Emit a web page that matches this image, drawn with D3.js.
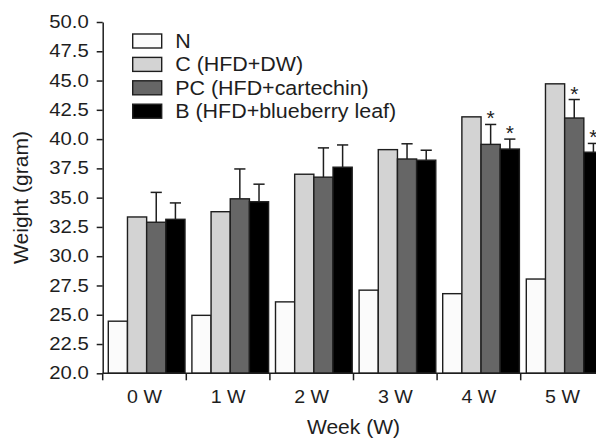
<!DOCTYPE html>
<html>
<head>
<meta charset="utf-8">
<script src="https://cdn.jsdelivr.net/npm/d3@7"></script>
<style>
  html, body { margin: 0; padding: 0; background: #fff; overflow: hidden; }
  svg { display: block; font-family: "Liberation Sans", Arial, Helvetica, sans-serif; }
</style>
</head>
<body>
<svg id="chart" width="596" height="439"></svg>
<script>
// ---- data ----
const weeks = ["0 W", "1 W", "2 W", "3 W", "4 W", "5 W"];
const seriesNames = ["N", "C (HFD+DW)", "PC (HFD+cartechin)", "B (HFD+blueberry leaf)"];
const seriesKeys = ["N", "C", "PC", "B"];
const valuesN  = [24.45, 24.95, 26.1, 27.1, 26.8, 28.05];
const valuesC  = [33.35, 33.8, 37.0, 39.1, 41.9, 44.72];
const valuesPC = [32.9, 34.9, 36.75, 38.3, 39.55, 41.8];
const errorsPC = [2.55, 2.55, 2.5, 1.3, 1.7, 1.58];
const valuesB  = [33.15, 34.65, 37.6, 38.2, 39.15, 38.88];
const errorsB  = [1.4, 1.5, 1.9, 0.85, 0.85, 0.75];
const starsPC  = [false, false, false, false, true, true];
const starsB   = [false, false, false, false, true, true];
const yTicks = [20.0, 22.5, 25.0, 27.5, 30.0, 32.5, 35.0, 37.5, 40.0, 42.5, 45.0, 47.5, 50.0];
const yTitle = "Weight (gram)";
const xTitle = "Week (W)";

const colors = { N: "#fbfbfb", C: "#d3d3d3", PC: "#666666", B: "#000000" };
const ink = "#1e1e1e";

const values = { N: valuesN, C: valuesC, PC: valuesPC, B: valuesB };
const errors = { PC: errorsPC, B: errorsB };
const stars = { PC: starsPC, B: starsB };

// ---- layout ----
const svg = d3.select("#chart");
const x0 = 102.7, groupW = 83.6;
const x = d3.scaleBand().domain(weeks).range([x0, x0 + groupW * weeks.length]).padding(0);
const xs = d3.scaleBand().domain(seriesKeys).range([5.6, 82.3]).padding(0);
const y = d3.scaleLinear().domain([20, 50]).range([373.3, 22]);

// bars
const data = [];
weeks.forEach((w, i) => seriesKeys.forEach(k => data.push({ w, i, k, v: values[k][i] })));

svg.append("g").selectAll("rect").data(data).join("rect")
  .attr("x", d => x(d.w) + xs(d.k))
  .attr("y", d => y(d.v))
  .attr("width", xs.bandwidth())
  .attr("height", d => y(20) - y(d.v))
  .attr("fill", d => colors[d.k])
  .attr("stroke", ink)
  .attr("stroke-width", 1.4);

// error bars
const errData = data.filter(d => errors[d.k]);
const eg = svg.append("g").attr("stroke", ink).attr("stroke-width", 1.5).attr("fill", "none");
errData.forEach(d => {
  const cx = x(d.w) + xs(d.k) + xs.bandwidth() / 2;
  const top = y(d.v + errors[d.k][d.i]);
  eg.append("line").attr("x1", cx).attr("x2", cx).attr("y1", y(d.v)).attr("y2", top);
  eg.append("line").attr("x1", cx - 5.6).attr("x2", cx + 5.6).attr("y1", top).attr("y2", top);
  if (stars[d.k][d.i]) {
    svg.append("text")
      .attr("x", cx).attr("y", top + 1)
      .attr("text-anchor", "middle")
      .attr("font-size", 21)
      .attr("fill", ink)
      .text("*");
  }
});

// y axis
const yAxis = d3.axisLeft(y).tickValues(yTicks).tickFormat(d3.format(".1f"))
  .tickSize(6).tickSizeOuter(0).tickPadding(8);
const yg = svg.append("g").attr("transform", `translate(${x0},0)`).call(yAxis);
yg.select(".domain").attr("stroke", ink).attr("stroke-width", 1.5);
yg.selectAll(".tick line").attr("stroke", ink).attr("stroke-width", 1.5);
yg.selectAll(".tick text")
  .attr("fill", ink)
  .attr("font-size", 17.5)
  .attr("font-family", "Liberation Sans, Arial, sans-serif")
  .each(function() {
    const t = d3.select(this);
    const tx = +t.attr("x");
    t.attr("x", null).attr("transform", `translate(${tx},0) scale(1.16,1)`);
  });

// x axis (line + boundary ticks + centred labels)
const xg = svg.append("g").attr("stroke", ink).attr("stroke-width", 1.5);
xg.append("line").attr("x1", x0).attr("x2", x.range()[1]).attr("y1", y(20)).attr("y2", y(20));
const bounds = weeks.map(w => x(w)).concat([x.range()[1]]);
xg.selectAll("line.tk").data(bounds).join("line").attr("class", "tk")
  .attr("x1", d => d).attr("x2", d => d).attr("y1", y(20)).attr("y2", y(20) + 7);

svg.append("g").selectAll("text").data(weeks).join("text")
  .attr("transform", d => `translate(${x(d) + x.bandwidth() / 2},403) scale(1.06,1)`)
  .attr("text-anchor", "middle")
  .attr("font-size", 18.5)
  .attr("fill", ink)
  .text(d => d);

// axis titles
svg.append("text")
  .attr("transform", `translate(${x0 + groupW * 3},434) scale(1.08,1)`)
  .attr("text-anchor", "middle")
  .attr("font-size", 19.5)
  .attr("fill", ink)
  .text(xTitle);

svg.append("text")
  .attr("transform", `translate(28,197.5) rotate(-90) scale(1.08,1)`)
  .attr("text-anchor", "middle")
  .attr("font-size", 19.5)
  .attr("fill", ink)
  .text(yTitle);

// legend
const lg = svg.append("g").attr("transform", "translate(132.7,34)");
seriesKeys.forEach((k, i) => {
  const row = lg.append("g").attr("transform", `translate(0,${i * 23.4})`);
  row.append("rect").attr("width", 29).attr("height", 14)
    .attr("fill", colors[k]).attr("stroke", ink).attr("stroke-width", 1.4);
  row.append("text")
    .attr("transform", "translate(42.5,14) scale(1.1,1)")
    .attr("font-size", 19.5)
    .attr("fill", ink)
    .text(seriesNames[i]);
});
</script>
</body>
</html>
